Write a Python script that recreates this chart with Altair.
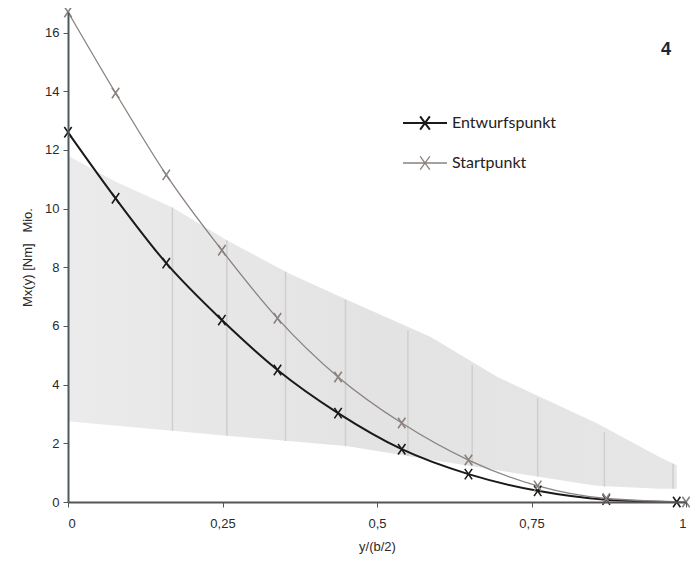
import altair as alt
import pandas as pd

# ---- data ----
stations = [0, 0.077, 0.159, 0.249, 0.339, 0.437, 0.540, 0.648, 0.760, 0.871]
ent_x = stations + [0.985]
ent_y = [12.6, 10.35, 8.14, 6.2, 4.5, 3.03, 1.80, 0.95, 0.38, 0.08, 0.0]
st_x = stations + [1.0]
st_y = [16.7, 13.94, 11.15, 8.58, 6.26, 4.26, 2.69, 1.43, 0.55, 0.12, 0.0]
series_names = ["Entwurfspunkt", "Startpunkt"]

band_x = [0, 0.079, 0.169, 0.257, 0.357, 0.453, 0.587, 0.695, 0.855, 0.957, 0.985]
band_top = [11.8, 10.9, 10.04, 8.92, 7.8, 6.88, 5.62, 4.26, 2.69, 1.53, 1.25]
band_bottom = [2.75, 2.6, 2.43, 2.26, 2.08, 1.9, 1.44, 1.08, 0.55, 0.45, 0.45]

rib_x = [0.169, 0.257, 0.352, 0.449, 0.55, 0.654, 0.760, 0.868, 0.979]
rib_top = [10.04, 8.92, 7.85, 6.9, 5.85, 4.66, 3.54, 2.38, 1.3]
rib_bottom = [2.43, 2.26, 2.08, 1.9, 1.57, 1.22, 0.87, 0.52, 0.45]

x_ticks = [0, 0.25, 0.5, 0.75, 1]
y_ticks = [0, 2, 4, 6, 8, 10, 12, 14, 16]

# ---- tables ----
lines_df = pd.DataFrame(
    [{"series": series_names[0], "x": a, "y": b} for a, b in zip(ent_x, ent_y)]
    + [{"series": series_names[1], "x": a, "y": b} for a, b in zip(st_x, st_y)]
)
band_df = pd.DataFrame({"x": band_x, "top": band_top, "bottom": band_bottom})
rib_df = pd.DataFrame({"x": rib_x, "top": rib_top, "bottom": rib_bottom})

xscale = alt.Scale(domain=[0, 1], nice=False, zero=False)
yscale = alt.Scale(domain=[0, 16.7], nice=False)

x_axis = alt.Axis(
    values=x_ticks,
    labelExpr="replace(toString(datum.value), '.', ',')",
    title="y/(b/2)",
    grid=False,
    domainColor="#555555",
    domainWidth=2,
    tickColor="#555555",
    tickSize=5,
    labelPadding=10,
    titlePadding=10,
    zindex=1,
)
y_axis = alt.Axis(
    values=y_ticks,
    title="Mx(y) [Nm]\u00a0\u00a0\u00a0Mio.",
    grid=False,
    domainColor="#4d5a5e",
    domainWidth=2,
    tickColor="#4d5a5e",
    tickSize=5,
    labelPadding=4,
    titlePadding=10,
    zindex=1,
)

band = alt.Chart(band_df).mark_area(
    color=alt.Gradient(
        gradient="linear",
        stops=[
            alt.GradientStop(color="#ebebeb", offset=0),
            alt.GradientStop(color="#e3e3e3", offset=0.5),
            alt.GradientStop(color="#e6e6e6", offset=1),
        ],
        x1=0, x2=1, y1=0, y2=0,
    ),
    opacity=1,
).encode(
    x=alt.X("x:Q", scale=xscale, axis=x_axis),
    y=alt.Y("top:Q", scale=yscale, axis=y_axis),
    y2="bottom:Q",
)

ribs = alt.Chart(rib_df).mark_rule(color="#cfcfcf", strokeWidth=1.5).encode(
    x="x:Q", y="top:Q", y2="bottom:Q"
)

color_scale = alt.Scale(domain=series_names, range=["#1a1a1a", "#8a827e"])
legend_symbol = "M-1,0H1M-0.22,-0.3L0.22,0.3M-0.22,0.3L0.22,-0.3"

lines = alt.Chart(lines_df).mark_line(interpolate="monotone").encode(
    x="x:Q",
    y="y:Q",
    color=alt.Color(
        "series:N",
        scale=color_scale,
        legend=alt.Legend(
            orient="none",
            legendX=334,
            legendY=88,
            title=None,
            symbolType=legend_symbol,
            symbolSize=1936,
            labelFont="Lato",
            labelFontSize=16,
            labelColor="#222222",
            rowPadding=6,
            labelOffset=4,
            padding=0,
        ),
    ),
    strokeWidth=alt.StrokeWidth(
        "series:N", scale=alt.Scale(domain=series_names, range=[2.0, 1.3]), legend=None
    ),
)

marker_path = "M-0.7,-1L0.7,1M-0.7,1L0.7,-1"
points = alt.Chart(lines_df).mark_point(
    shape=marker_path, size=110, filled=False, strokeWidth=1.6, opacity=1
).encode(
    x="x:Q",
    y="y:Q",
    color=alt.Color("series:N", scale=color_scale, legend=None),
)

label4 = alt.Chart(pd.DataFrame({"t": ["4"]})).mark_text(
    font="Liberation Sans", fontSize=18, fontWeight="bold", color="#1b2833"
).encode(x=alt.value(598), y=alt.value(38), text="t:N")

chart = (
    alt.layer(band, ribs, lines, points, label4)
    .properties(
        width=618,
        height=490,
        padding={"left": 60, "top": 4, "right": 4, "bottom": 60},
        autosize=alt.AutoSizeParams(type="none"),
    )
    .configure_view(stroke=None)
    .configure_axis(
        labelFont="Liberation Sans",
        titleFont="Liberation Sans",
        labelFontSize=13,
        titleFontSize=13,
        labelColor="#2a2a2a",
        titleColor="#2a2a2a",
        titleFontWeight="normal",
    )
)

chart.save("out.html", embed_options={"renderer": "svg", "actions": False})
